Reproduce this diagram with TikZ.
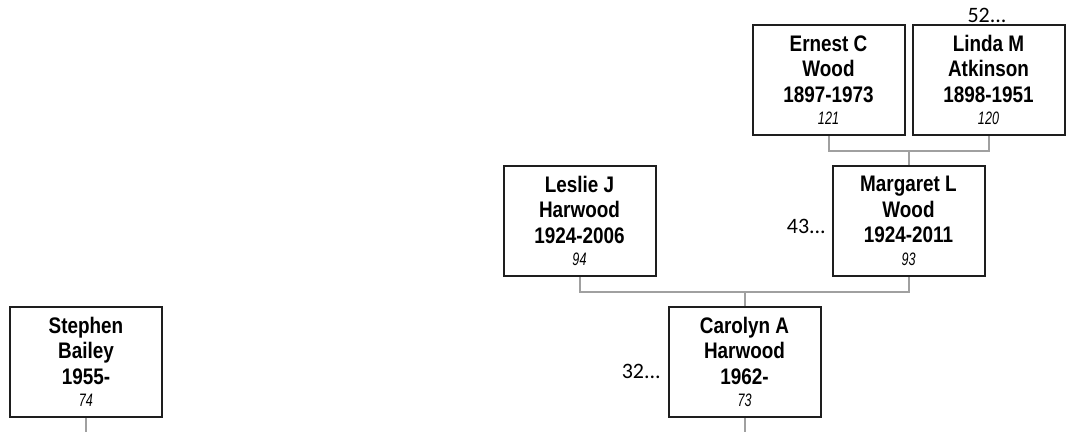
\documentclass[tikz,border=0pt]{standalone}
\usepackage{fontspec}
\newfontfamily\boxfont[FakeStretch=0.84]{Liberation Sans}
\newfontfamily\numfamily[FakeStretch=0.7]{Liberation Sans}
\newfontfamily\calfont{Carlito}
\newcommand{\namefont}{\boxfont\bfseries\fontsize{22.5}{25.5}\selectfont}
\newcommand{\idnum}[1]{\\[-3pt]{\numfamily\mdseries\itshape\fontsize{18}{20}\selectfont #1}}
\definecolor{boxc}{HTML}{1E1E1E}
\definecolor{linec}{HTML}{A0A0A0}
\begin{document}
\begin{tikzpicture}[x=1pt,y=-1pt,
  person/.style={draw=boxc, line width=2pt, fill=white, minimum width=152pt, minimum height=110pt,
    inner sep=0pt, align=center, font=\namefont},
  conn/.style={draw=linec, line width=2pt},
  more/.style={font=\calfont\fontsize{22}{24}\selectfont, inner sep=0pt}]
\useasboundingbox (0,0) rectangle (1071,432);
\fill[white] (0,0) rectangle (1071,432);

\node[person] (e) at (828.5,80) {Ernest C\\Wood\\1897-1973\idnum{121}};
\node[person] (l) at (988.5,80) {Linda M\\Atkinson\\1898-1951\idnum{120}};
\node[person] (ls) at (579.5,221) {Leslie J\\Harwood\\1924-2006\idnum{94}};
\node[person] (m) at (908.5,221) {Margaret L\\Wood\\1924-2011\idnum{93}};
\node[person] (c) at (744.5,362) {Carolyn A\\Harwood\\1962-\idnum{73}};
\node[person] (s) at (86,362) {Stephen\\Bailey\\1955-\idnum{74}};

\node[more, anchor=base] (t52) at (987,22) {52...};
\node[more, anchor=base east] (t43) at (826,233) {43...};
\node[more, anchor=base east] (t32) at (661,378) {32...};

\coordinate (j1) at (908.5,151);
\coordinate (j2) at (744.5,292);
\coordinate (c1) at (744.5,432);
\coordinate (s1) at (86,432);

\draw[conn] (e.south) |- (j1) -| (l.south);
\draw[conn] (j1) -- (m.north);
\draw[conn] (ls.south) |- (j2) -| (m.south);
\draw[conn] (j2) -- (c.north);
\draw[conn] (c.south) -- (c1);
\draw[conn] (s.south) -- (s1);
\end{tikzpicture}
\end{document}
